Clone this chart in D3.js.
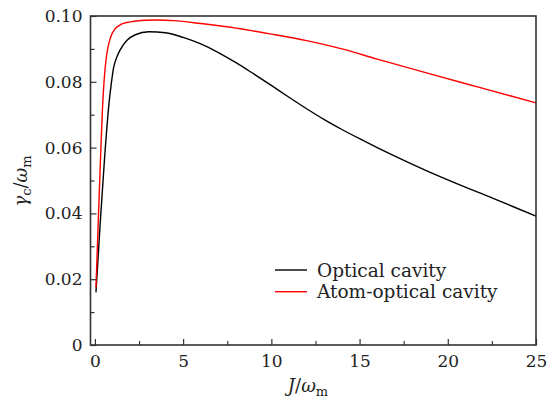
<!DOCTYPE html>
<html>
<head>
<meta charset="utf-8">
<script src="https://cdn.jsdelivr.net/npm/d3@7"></script>
<style>
  body { margin: 0; background: #fff; }
  svg text { font-family: "DejaVu Serif", serif; fill: #222; }
</style>
</head>
<body>
<div id="chart"></div>
<script>
// values
var optical_x  = [0.06, 0.3, 0.55, 0.8, 0.93, 1.06, 1.25, 1.44, 1.82, 2.29, 3.05, 4, 5, 6, 7, 8, 9, 10, 11, 12, 13, 14, 15, 16, 17, 18, 19, 20, 22.5, 25];
var optical_y  = [0.0160, 0.037, 0.057, 0.0735, 0.0795, 0.0843, 0.0876, 0.0898, 0.0926, 0.0943, 0.0952, 0.0949, 0.0935, 0.0915, 0.0889, 0.0858, 0.0824, 0.0789, 0.0753, 0.0718, 0.0685, 0.0655, 0.0627, 0.0600, 0.0574, 0.0549, 0.0525, 0.0502, 0.0447, 0.0392];

var atom_x     = [0.06, 0.18, 0.32, 0.43, 0.53, 0.65, 0.76, 0.9, 1.16, 1.5, 2.0, 2.86, 3.5, 4.5, 6, 8, 10, 12, 14, 16, 19, 22, 25];
var atom_y     = [0.0175, 0.036, 0.057, 0.072, 0.081, 0.0875, 0.0910, 0.0937, 0.0962, 0.0975, 0.0982, 0.0987, 0.0988, 0.0986, 0.0977, 0.0963, 0.0945, 0.0925, 0.0900, 0.0869, 0.0824, 0.0780, 0.0736];

var x_ticks       = [0, 5, 10, 15, 20, 25];
var x_minor_ticks = [2.5, 7.5, 12.5, 17.5, 22.5];
var y_ticks       = [0, 0.02, 0.04, 0.06, 0.08, 0.10];
var y_minor_ticks = [0.01, 0.03, 0.05, 0.07, 0.09];

var series_names  = ["Optical cavity", "Atom-optical cavity"];
var series_colors = ["#000", "#f00"];

var width  = 555;
var height = 403;
// plot box (note: "top" is taken by window.top)
var box = { left: 90.5, right: 536, top: 16, bottom: 345 };

var svg = d3.select("#chart").append("svg").attr("width", width).attr("height", height);

var x = d3.scaleLinear().domain([-0.25, 25]).range([box.left, box.right]);
var y = d3.scaleLinear().domain([0, 0.1]).range([box.bottom, box.top]);

function zip(xs, ys) { return xs.map(function (v, i) { return [v, ys[i]]; }); }

var line = d3.line()
  .x(function (d) { return x(d[0]); })
  .y(function (d) { return y(d[1]); })
  .curve(d3.curveMonotoneX);

var plot = svg.append("g");
[zip(optical_x, optical_y), zip(atom_x, atom_y)].forEach(function (data, i) {
  plot.append("path")
    .attr("d", line(data))
    .attr("fill", "none")
    .attr("stroke", series_colors[i])
    .attr("stroke-width", 1.4);
});

// axes, ticks pointing in
var fmt = function (d) { return d === 0 ? "0" : d3.format(".2f")(d); };

svg.append("g").attr("transform", "translate(0," + box.bottom + ")")
  .call(d3.axisBottom(x).tickValues(x_ticks).tickSize(-6).tickPadding(10));
svg.append("g").attr("transform", "translate(0," + box.bottom + ")")
  .call(d3.axisBottom(x).tickValues(x_minor_ticks).tickSize(-4).tickFormat(""));

svg.append("g").attr("transform", "translate(" + box.left + ",0)")
  .call(d3.axisLeft(y).tickValues(y_ticks).tickSize(-6).tickPadding(8).tickFormat(fmt));
svg.append("g").attr("transform", "translate(" + box.left + ",0)")
  .call(d3.axisLeft(y).tickValues(y_minor_ticks).tickSize(-4).tickFormat(""));

svg.selectAll(".domain").remove();
svg.selectAll(".tick line").attr("stroke", "#333").attr("stroke-width", 1.2);
svg.selectAll(".tick text").style("font-family", "DejaVu Serif").style("font-size", "17px").attr("fill", "#222");

// frame
svg.append("rect")
  .attr("x", box.left).attr("y", box.top)
  .attr("width", box.right - box.left).attr("height", box.bottom - box.top)
  .attr("fill", "none").attr("stroke", "#333").attr("stroke-width", 1.6);

// axis titles
var xt = svg.append("text").attr("x", 308).attr("y", 392).attr("text-anchor", "middle").style("font-size", "18px");
xt.append("tspan").style("font-style", "italic").text("J");
xt.append("tspan").text("/");
xt.append("tspan").style("font-style", "italic").text("ω");
xt.append("tspan").attr("dy", 4).style("font-size", "13px").text("m");

var yt = svg.append("text").attr("transform", "translate(27,181) rotate(-90)").attr("text-anchor", "middle").style("font-size", "18px");
yt.append("tspan").style("font-style", "italic").text("γ");
yt.append("tspan").attr("dy", 4).style("font-size", "13px").text("c");
yt.append("tspan").attr("dy", -4).text("/");
yt.append("tspan").style("font-style", "italic").text("ω");
yt.append("tspan").attr("dy", 4).style("font-size", "13px").text("m");

// legend
var legend = svg.append("g");
series_names.forEach(function (name, i) {
  var ly = 270 + i * 21.7;
  legend.append("line")
    .attr("x1", 275).attr("x2", 307).attr("y1", ly).attr("y2", ly)
    .attr("stroke", series_colors[i]).attr("stroke-width", 1.4);
  legend.append("text")
    .attr("x", 317).attr("y", ly + 6.5)
    .style("font-size", "18.5px")
    .text(name);
});
</script>
</body>
</html>
